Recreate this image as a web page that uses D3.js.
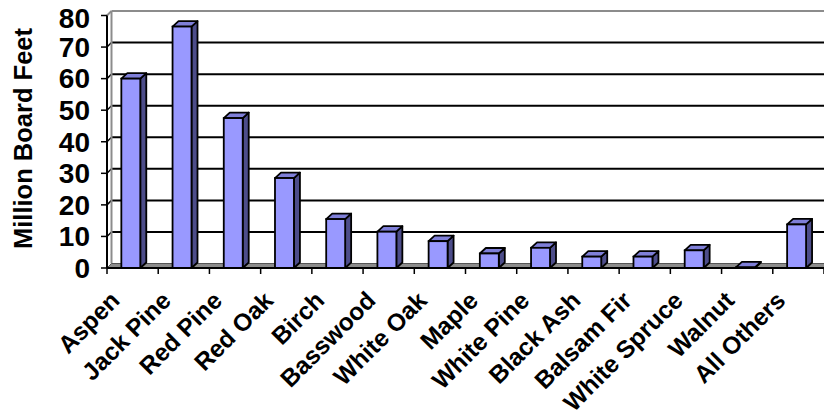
<!DOCTYPE html>
<html><head><meta charset="utf-8">
<script src="https://cdn.jsdelivr.net/npm/d3@7"></script>
<style>html,body{margin:0;padding:0;background:#fff;}svg{display:block;}</style>
</head><body>
<svg id="chart" width="824" height="419"></svg>
<script>
const categories = ["Aspen","Jack Pine","Red Pine","Red Oak","Birch","Basswood","White Oak","Maple","White Pine","Black Ash","Balsam Fir","White Spruce","Walnut","All Others"];
const values = [60, 76.5, 47.5, 28.5, 15.5, 11.5, 8.5, 4.6, 6.4, 3.6, 3.6, 5.6, 0.2, 13.8];
const yTicks = [0,10,20,30,40,50,60,70,80];
const yTitle = "Million Board Feet";

const svg = d3.select("#chart");
const FONT = "Arial, 'Liberation Sans', Helvetica, sans-serif";

const x = d3.scaleBand().domain(categories).range([107, 824]).paddingInner(0).paddingOuter(0);
const y = d3.scaleLinear().domain([0, 80]).range([268, 15.5]);
const wdx = 4.5, wdy = -4.5;
const bdx = 6, bdy = -5.5;
const x0 = x.range()[0], x1 = x.range()[1];

const grid = svg.append("g");
grid.selectAll("line.g").data(yTicks.filter(t => t > 0 && t < 80)).join("line")
  .attr("x1", x0 + wdx).attr("x2", x1 + wdx)
  .attr("y1", d => y(d) + wdy).attr("y2", d => y(d) + wdy)
  .attr("stroke", "#000").attr("stroke-width", 2);
grid.selectAll("line.d").data(yTicks.filter(t => t > 0 && t < 80)).join("line")
  .attr("x1", x0).attr("x2", x0 + wdx)
  .attr("y1", d => y(d)).attr("y2", d => y(d) + wdy)
  .attr("stroke", "#000").attr("stroke-width", 1.5);
grid.append("line").attr("x1", x0 + wdx).attr("x2", x1 + wdx)
  .attr("y1", y(80) + wdy).attr("y2", y(80) + wdy)
  .attr("stroke", "#8c8c8c").attr("stroke-width", 2);
grid.append("line").attr("x1", x0 + wdx).attr("x2", x0 + wdx)
  .attr("y1", y(80) + wdy).attr("y2", y(0) + wdy)
  .attr("stroke", "#8c8c8c").attr("stroke-width", 2);
grid.append("line").attr("x1", x0).attr("x2", x0 + wdx)
  .attr("y1", y(80)).attr("y2", y(80) + wdy)
  .attr("stroke", "#8c8c8c").attr("stroke-width", 2);

svg.append("path")
  .attr("d", `M${x0},${y(0)}L${x1},${y(0)}L${x1 + wdx},${y(0) + wdy}L${x0 + wdx},${y(0) + wdy}Z`)
  .attr("fill", "#8c8c8c").attr("stroke", "#555").attr("stroke-width", 1);

const bw = x.bandwidth() * 0.37, boff = x.bandwidth() * 0.28;
const bars = svg.append("g").selectAll("g").data(categories.map((c, i) => ({c, v: values[i]}))).join("g");
bars.each(function(d) {
  const g = d3.select(this);
  const bx = x(d.c) + boff, yt = y(d.v), yb = y(0);
  g.append("path")
    .attr("d", `M${bx + bw},${yt}L${bx + bw + bdx},${yt + bdy}L${bx + bw + bdx},${yb + bdy}L${bx + bw},${yb}Z`)
    .attr("fill", "#4d4d8a").attr("stroke", "#000").attr("stroke-width", 1.8).attr("stroke-linejoin", "round");
  g.append("path")
    .attr("d", `M${bx},${yt}L${bx + bw},${yt}L${bx + bw + bdx},${yt + bdy}L${bx + bdx},${yt + bdy}Z`)
    .attr("fill", "#7f7fd8").attr("stroke", "#000").attr("stroke-width", 1.8).attr("stroke-linejoin", "round");
  g.append("rect")
    .attr("x", bx).attr("y", yt).attr("width", bw).attr("height", Math.max(0, yb - yt))
    .attr("fill", "#9999ff").attr("stroke", "#000").attr("stroke-width", 1.8);
});

svg.append("line").attr("x1", x0).attr("x2", x1).attr("y1", y(0)).attr("y2", y(0))
  .attr("stroke", "#000").attr("stroke-width", 2);
const bounds = categories.map(c => x(c)).concat([x1]);
svg.append("g").selectAll("line").data(bounds).join("line")
  .attr("x1", d => d).attr("x2", d => d).attr("y1", y(0)).attr("y2", y(0) + 6)
  .attr("stroke", "#000").attr("stroke-width", 1.5);

svg.append("line").attr("x1", x0).attr("x2", x0).attr("y1", y(80)).attr("y2", y(0))
  .attr("stroke", "#000").attr("stroke-width", 2);
svg.append("g").selectAll("line").data(yTicks).join("line")
  .attr("x1", x0 - 6).attr("x2", x0).attr("y1", d => y(d)).attr("y2", d => y(d))
  .attr("stroke", "#000").attr("stroke-width", 1.5);
svg.append("g").selectAll("text").data(yTicks).join("text")
  .attr("x", 90).attr("y", d => Math.max(y(d), 18.5) + 9.8)
  .attr("text-anchor", "end").attr("font-family", FONT).attr("font-weight", "bold")
  .attr("font-size", 28).attr("fill", "#000").text(d => d);

svg.append("text").attr("transform", "translate(31.5,138.5) rotate(-90)")
  .attr("text-anchor", "middle").attr("font-family", FONT).attr("font-weight", "bold")
  .attr("font-size", 25.5).attr("fill", "#000").text(yTitle);

svg.append("g").selectAll("text").data(categories).join("text")
  .attr("transform", c => `translate(${x(c) + x.bandwidth() / 2 - 11.5},302) rotate(-45)`)
  .attr("text-anchor", "end").attr("font-family", FONT).attr("font-weight", "bold")
  .attr("font-size", 24.5).attr("fill", "#000").text(c => c);
</script>
</body></html>
